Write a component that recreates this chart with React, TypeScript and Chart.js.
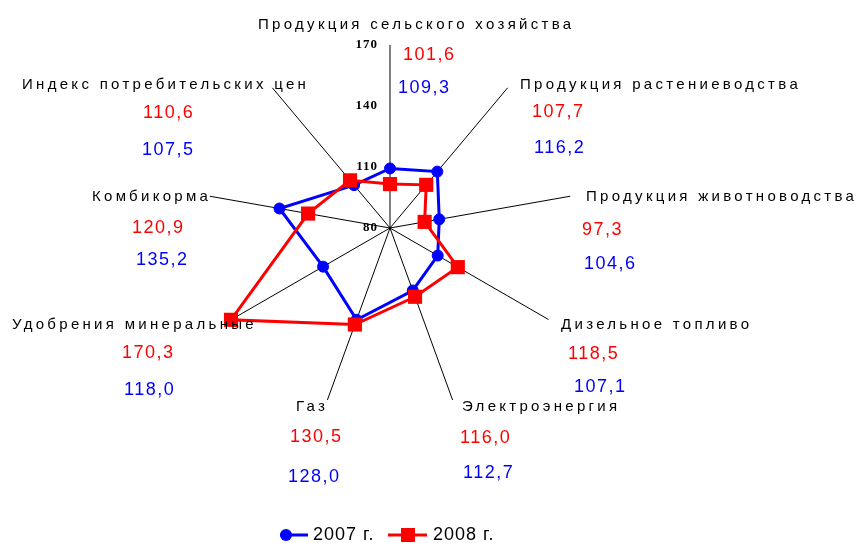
import React, { useEffect, useRef } from "react";
import { Chart, registerables } from "chart.js";

Chart.register(...registerables);

// ---------- data ----------
const categories = [
  "Продукция сельского хозяйства",
  "Продукция растениеводства",
  "Продукция животноводства",
  "Дизельное топливо",
  "Электроэнергия",
  "Газ",
  "Удобрения минеральные",
  "Комбикорма",
  "Индекс потребительских цен",
];
const values2007 = [109.3, 116.2, 104.6, 107.1, 112.7, 128.0, 118.0, 135.2, 107.5];
const values2008 = [101.6, 107.7, 97.3, 118.5, 116.0, 130.5, 170.3, 120.9, 110.6];
const seriesNames = ["2007 г.", "2008 г."];
const scaleMin = 80;
const scaleMax = 170;
const scaleStep = 30;

// ---------- styles / layout ----------
const BLUE = "#0000FF";
const RED = "#FF0000";
const W = 859;
const H = 543;

// annotation offsets from the radar centre: [name, 2008 value, 2007 value]
const LABEL_LAYOUT: number[][][] = [
  [[-132, -203], [13, -173], [8, -140]],
  [[130, -143], [142, -116], [144, -80]],
  [[196, -31], [192, 2], [194, 36]],
  [[171, 97], [178, 126], [184, 159]],
  [[72, 179], [70, 210], [73, 245]],
  [[-94, 179], [-100, 209], [-102, 249]],
  [[-378, 97], [-268, 125], [-266, 162]],
  [[-298, -31], [-258, 0], [-254, 32]],
  [[-368, -143], [-247, -115], [-248, -78]],
];

const fmt = (v: number) => v.toFixed(1).replace(".", ",");

const annotationPlugin = {
  id: "annotations",
  afterDraw(chart: any) {
    const ctx: CanvasRenderingContext2D = chart.ctx;
    const scale = chart.scales.r;
    const cx = scale.xCenter;
    const cy = scale.yCenter;
    ctx.save();
    ctx.textBaseline = "middle";

    // tick labels
    ctx.font = "bold 13px 'Liberation Serif'";
    (ctx as any).letterSpacing = "1px";
    ctx.fillStyle = "#000";
    ctx.textAlign = "right";
    scale.ticks.forEach((t: any) => {
      const d = scale.getDistanceFromCenterForValue(t.value);
      ctx.fillText(String(t.value), cx - 12, cy - d);
    });

    // category labels and values
    ctx.textAlign = "left";
    categories.forEach((name, i) => {
      const [n, r, b] = LABEL_LAYOUT[i];
      ctx.font = "15px 'Liberation Sans'";
      (ctx as any).letterSpacing = "3.3px";
      ctx.fillStyle = "#000";
      ctx.fillText(name, cx + n[0], cy + n[1]);
      ctx.font = "18px 'Liberation Sans'";
      (ctx as any).letterSpacing = "1.5px";
      ctx.fillStyle = RED;
      ctx.fillText(fmt(values2008[i]), cx + r[0], cy + r[1]);
      ctx.fillStyle = BLUE;
      ctx.fillText(fmt(values2007[i]), cx + b[0], cy + b[1]);
    });

    // legend
    const ly = 535;
    ctx.lineWidth = 3;
    ctx.strokeStyle = BLUE;
    ctx.beginPath();
    ctx.moveTo(280, ly);
    ctx.lineTo(308, ly);
    ctx.stroke();
    ctx.fillStyle = BLUE;
    ctx.beginPath();
    ctx.arc(286, ly, 6, 0, Math.PI * 2);
    ctx.fill();
    ctx.strokeStyle = RED;
    ctx.beginPath();
    ctx.moveTo(388, ly);
    ctx.lineTo(427, ly);
    ctx.stroke();
    ctx.fillStyle = RED;
    ctx.fillRect(408 - 7, ly - 7, 14, 14);

    ctx.font = "18px 'Liberation Sans'";
    (ctx as any).letterSpacing = "1px";
    ctx.fillStyle = "#000";
    ctx.fillText(seriesNames[0], 313, ly);
    ctx.fillText(seriesNames[1], 433, ly);
    ctx.restore();
  },
};

export default function App() {
  const ref = useRef<HTMLCanvasElement | null>(null);

  useEffect(() => {
    document.body.style.margin = "0";
    const canvas = ref.current;
    if (!canvas) return;
    const chart = new Chart(canvas, {
      type: "radar",
      data: {
        labels: categories,
        datasets: [
          {
            label: seriesNames[0],
            data: values2007,
            borderColor: BLUE,
            backgroundColor: BLUE,
            borderWidth: 3,
            fill: false,
            pointStyle: "circle",
            pointRadius: 5.5,
            pointBorderWidth: 1,
            pointBackgroundColor: BLUE,
            pointBorderColor: BLUE,
            order: 2,
          },
          {
            label: seriesNames[1],
            data: values2008,
            borderColor: RED,
            backgroundColor: RED,
            borderWidth: 3,
            fill: false,
            pointStyle: "rect",
            pointRadius: 10,
            pointBorderWidth: 0,
            pointBackgroundColor: RED,
            pointBorderColor: RED,
            order: 1,
          },
        ],
      },
      options: {
        responsive: false,
        animation: false,
        devicePixelRatio: 1,
        events: [],
        layout: { padding: { left: 207, top: 45, right: 286, bottom: 132 } },
        plugins: { legend: { display: false }, tooltip: { enabled: false } },
        elements: { line: { tension: 0 } },
        scales: {
          r: {
            min: scaleMin,
            max: scaleMax,
            beginAtZero: false,
            ticks: { stepSize: scaleStep, display: false },
            grid: { display: false },
            angleLines: { display: true, color: "#000", lineWidth: 1 },
            pointLabels: { display: false },
          },
        },
      },
      plugins: [annotationPlugin],
    });
    return () => chart.destroy();
  }, []);

  return (
    <div style={{ width: W, height: H, background: "#fff" }}>
      <canvas ref={ref} width={W} height={H} style={{ display: "block" }} />
    </div>
  );
}
